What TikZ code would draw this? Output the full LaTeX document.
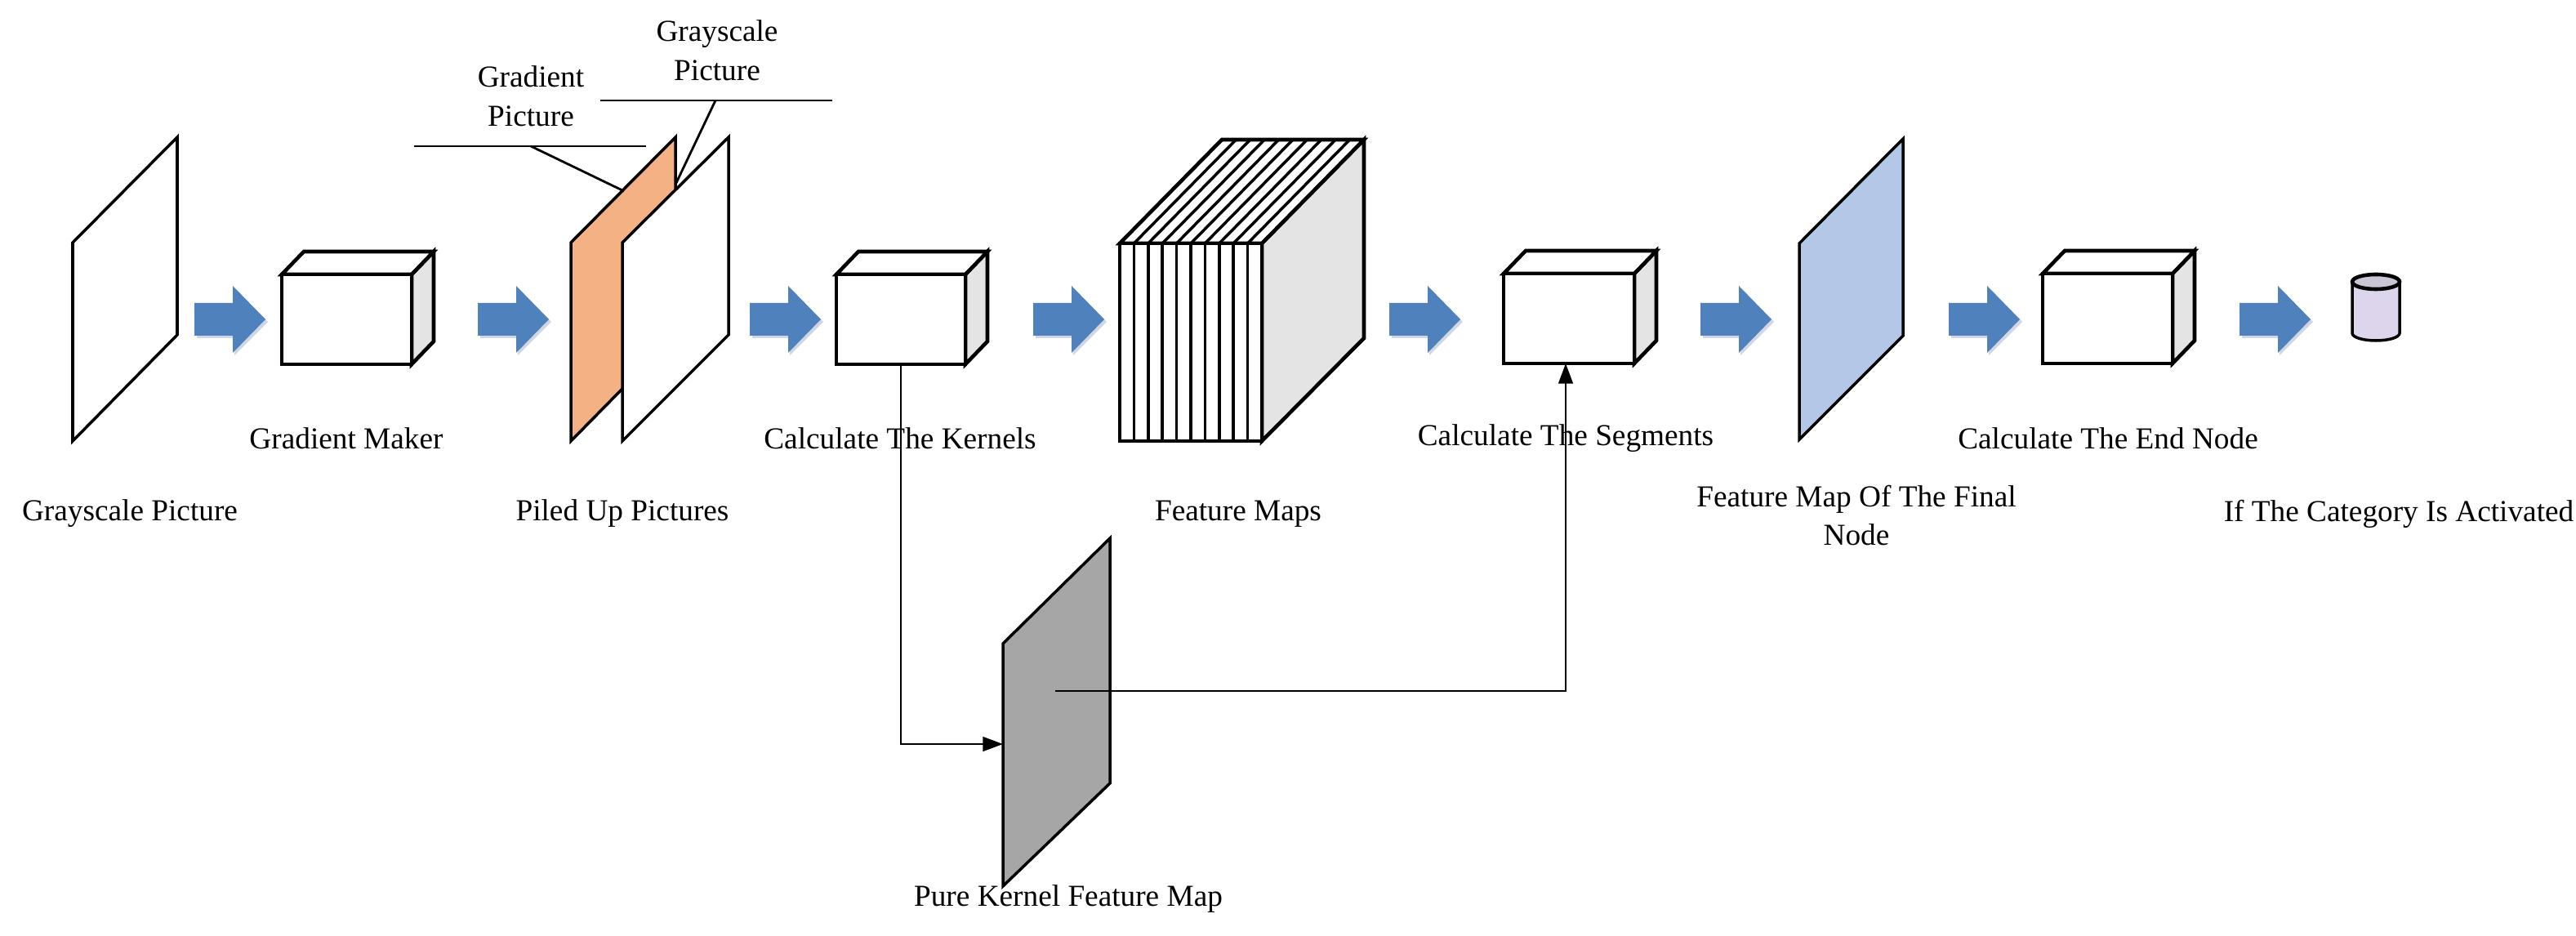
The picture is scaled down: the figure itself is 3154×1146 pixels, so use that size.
\documentclass[tikz,border=0pt]{standalone}
\usepackage{fontspec}
\setmainfont{Liberation Serif}
\usetikzlibrary{arrows.meta}
\definecolor{arrblue}{HTML}{4F81BD}
\definecolor{sidegray}{HTML}{E4E4E4}
\definecolor{orangep}{HTML}{F4B183}
\definecolor{bluep}{HTML}{B4C7E7}
\definecolor{grayp}{HTML}{A6A6A6}
\definecolor{lav}{HTML}{DDD5EB}
\tikzset{
  cubeline/.style={line width=1.3pt,line join=miter},
  panel/.style={line width=1pt,line join=miter},
  lbl/.style={font=\fontsize{10.6}{13.6}\selectfont,align=center,inner sep=0pt},
  conn/.style={line width=0.8pt,-{Triangle[length=7pt,width=5pt]}},
  lead/.style={line width=0.8pt},
}
\newcommand\mycube[3]{%
  \draw[cubeline,fill=sidegray] ({#1+#3},#2) -- ++(27,-28) -- ++(0,110) -- ++(-27,28) -- cycle;
  \draw[cubeline,fill=white] (#1,#2) -- ++(27,-28) -- ++(#3,0) -- ++(-27,28) -- cycle;
  \draw[cubeline,fill=white] (#1,#2) rectangle ++(#3,110);}
\newcommand\barrow[1]{%
  \fill[arrblue!75!black,opacity=0.25] (#1+3,374) -- (#1+49,374) -- (#1+49,353) -- (#1+90,394) -- (#1+49,435) -- (#1+49,414) -- (#1+3,414) -- cycle;
  \fill[arrblue] (#1,371) -- (#1+47,371) -- (#1+47,350) -- (#1+87,391) -- (#1+47,432) -- (#1+47,411) -- (#1,411) -- cycle;}
\begin{document}
\begin{tikzpicture}[x=0.01cm,y=-0.01cm]
\useasboundingbox (0,0) rectangle (3154,1146);
% grayscale picture
\draw[panel,fill=white] (89,297) -- (217,168) -- (217,410) -- (89,540) -- cycle;
\barrow{238}
\mycube{345}{336}{159}
\barrow{585}
% piled pictures
\draw[panel,fill=orangep] (699,297) -- (827,168) -- (827,410) -- (699,540) -- cycle;
\draw[panel,fill=white] (762,297) -- (892,168) -- (892,410) -- (762,540) -- cycle;
\draw[lead] (507,179) -- (791,179);
\draw[lead] (650,179) -- (764,234);
\draw[lead] (735,123) -- (1019,123);
\draw[lead] (876,123) -- (827,226);
\node[lbl] (glbl) at (650,118) {Gradient\\Picture};
\node[lbl] (gslbl) at (878,62) {Grayscale\\Picture};
\barrow{918}
\mycube{1024}{336}{158}
\coordinate (kb) at (1103,446);
\barrow{1265}
% feature maps
\draw[cubeline,fill=sidegray] (1545,298) -- (1670,171) -- (1670,414) -- (1545,540) -- cycle;
\draw[cubeline,fill=white] (1371,298) -- (1496,171) -- (1670,171) -- (1545,298) -- cycle;
\draw[cubeline,fill=white] (1371,298) rectangle (1545,540);
\foreach \i in {1,...,9}{
  \draw[line width=1pt] ({1371+\i*17.4},298) -- ++(0,242);
  \draw[line width=1pt] ({1371+\i*17.4},298) -- ++(125,-127);
}
\draw[cubeline] (1371,298) rectangle (1545,540);
\barrow{1701}
\mycube{1841}{335}{160}
\coordinate (sb) at (1917,445);
\barrow{2082}
\draw[panel,fill=bluep] (2203,298) -- (2330,170) -- (2330,411) -- (2203,538) -- cycle;
\barrow{2386}
\mycube{2501}{335}{159}
\barrow{2742}
% cylinder
\draw[line width=1pt,fill=lav] (2880,345) -- (2880,408) arc[start angle=180,end angle=0,x radius=29,y radius=9] -- (2938,345);
\draw[line width=1.3pt,fill=lav!80!gray] (2909,345) ellipse[x radius=29,y radius=9];
% gray panel
\draw[panel,fill=grayp] (1228,788) -- (1359,659) -- (1359,959) -- (1228,1085) -- cycle;
\coordinate (gpin) at (1228,911);
\coordinate (gpc) at (1292,846);
\draw[conn] (kb) |- (gpin);
\draw[conn] (gpc) -| (sb);
% labels
\node[lbl] (l1) at (159,629) {Grayscale Picture};
\node[lbl] (l2) at (424,537) {Gradient Maker};
\node[lbl] (l3) at (762,629) {Piled Up Pictures};
\node[lbl] (l4) at (1102,537) {Calculate The Kernels};
\node[lbl] (l5) at (1516,629) {Feature Maps};
\node[lbl] (l6) at (1917,537) {Calculate The Segments};
\node[lbl] (l7) at (2273,631) {Feature Map Of The Final\\Node};
\node[lbl] (l8) at (2581,537) {Calculate The End Node};
\node[lbl] (l9) at (2937,629) {If The Category Is Activated};
\node[lbl] (l10) at (1308,1101) {Pure Kernel Feature Map};
\end{tikzpicture}
\end{document}
